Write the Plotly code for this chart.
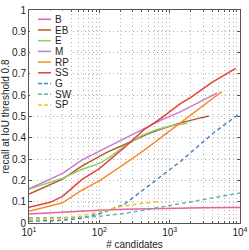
import plotly.graph_objects as go

# ---------------- data ----------------
B_n = [10, 30, 57, 100, 234, 1000, 3000, 10000]
B_v = [0.042, 0.052, 0.056, 0.060, 0.064, 0.070, 0.072, 0.073]

EB_n = [10, 20, 30, 57, 100, 134, 234, 500, 741, 1436, 2500, 3600]
EB_v = [0.136, 0.180, 0.206, 0.268, 0.310, 0.335, 0.370, 0.420, 0.440, 0.470, 0.490, 0.502]

E_n = [10, 20, 30, 57, 100, 134, 234, 400, 630, 1000, 1780]
E_v = [0.160, 0.190, 0.210, 0.252, 0.280, 0.305, 0.363, 0.410, 0.437, 0.455, 0.468]

M_n = [10, 20, 30, 57, 100, 134, 234, 385, 741, 1436, 2500, 4700]
M_v = [0.160, 0.205, 0.233, 0.296, 0.337, 0.358, 0.400, 0.437, 0.482, 0.523, 0.564, 0.610]

RP_n = [10, 20, 30, 57, 103, 234, 427, 741, 1500, 3000, 5500]
RP_v = [0.055, 0.080, 0.095, 0.155, 0.200, 0.280, 0.340, 0.400, 0.476, 0.550, 0.617]

SS_n = [10, 20, 30, 57, 100, 234, 428, 741, 1436, 2000, 4000, 8700]
SS_v = [0.074, 0.097, 0.125, 0.205, 0.255, 0.358, 0.437, 0.490, 0.562, 0.590, 0.660, 0.726]

G_n = [10, 20, 30, 57, 103, 227, 500, 1000, 1436, 4270, 10000]
G_v = [0.008, 0.010, 0.013, 0.022, 0.045, 0.088, 0.174, 0.253, 0.290, 0.425, 0.515]

SW_n = [10, 30, 57, 103, 227, 500, 1000, 3000, 10000]
SW_v = [0.023, 0.025, 0.027, 0.032, 0.045, 0.064, 0.082, 0.111, 0.141]

SP_n = [10, 20, 30, 57, 103, 200, 400, 680]
SP_v = [0.014, 0.018, 0.022, 0.033, 0.053, 0.077, 0.092, 0.100]

series_names = ["B", "EB", "E", "M", "RP", "SS", "G", "SW", "SP"]
series_n = [B_n, EB_n, E_n, M_n, RP_n, SS_n, G_n, SW_n, SP_n]
series_v = [B_v, EB_v, E_v, M_v, RP_v, SS_v, G_v, SW_v, SP_v]
series_colors = ["#e75ea4", "#b35a24", "#8fcf6e", "#c47ccc", "#f28e2b",
                 "#e3413a", "#4b86c0", "#5fb9a5", "#f2c31c"]
series_dash = ["solid"] * 6 + ["4px,3px"] * 3

x_tickvals = [10, 100, 1000, 10000]
x_ticktext = ["10<sup>1</sup>", "10<sup>2</sup>", "10<sup>3</sup>", "10<sup>4</sup>"]
y_tickvals = [0, 0.1, 0.2, 0.3, 0.4, 0.5, 0.6, 0.7, 0.8, 0.9, 1]
y_ticktext = ["0", "0.1", "0.2", "0.3", "0.4", "0.5", "0.6", "0.7", "0.8", "0.9", "1"]

FONT = "Liberation Sans, Arial, sans-serif"
TXT = "#222222"
FRAME = "#555555"
GRID = "#b4b4b4"
GRID_DASH = "1px,3px"

fig = go.Figure()
for name, n, v, c, d in zip(series_names, series_n, series_v, series_colors, series_dash):
    fig.add_trace(go.Scatter(x=n, y=v, mode="lines", name=name,
                             line=dict(color=c, width=1.5, dash=d),
                             showlegend=False, hoverinfo="skip"))

# ---------------- custom compact legend ----------------
W, H = 249, 250
ML, MR, MT, MB = 29, 9, 10, 27
PW, PH = W - ML - MR, H - MT - MB

def px_x(x):
    return (x - ML) / PW

def px_y(y):
    return (H - MB - y) / PH

shapes = [dict(type="rect", xref="paper", yref="paper",
               x0=px_x(30), x1=px_x(70), y0=px_y(110), y1=px_y(10.5),
               fillcolor="white", line=dict(width=0), layer="above")]
annotations = []
row0, step = 19.3, 10.7
for i, (name, c, d) in enumerate(zip(series_names, series_colors, series_dash)):
    yy = row0 + i * step
    shapes.append(dict(type="line", xref="paper", yref="paper",
                       x0=px_x(38), x1=px_x(51), y0=px_y(yy), y1=px_y(yy),
                       line=dict(color=c, width=1.5, dash=("solid" if d == "solid" else "4px,2px")),
                       layer="above"))
    annotations.append(dict(text=name, xref="paper", yref="paper",
                            x=px_x(52.5), y=px_y(yy), xanchor="left", yanchor="middle",
                            showarrow=False, font=dict(family=FONT, size=10, color=TXT)))

fig.update_layout(
    width=W, height=H,
    margin=dict(l=ML, r=MR, t=MT, b=MB, autoexpand=False),
    paper_bgcolor="white", plot_bgcolor="white",
    font=dict(family=FONT, size=10, color=TXT),
    shapes=shapes, annotations=annotations,
    showlegend=False,
)
fig.update_xaxes(
    type="log", range=[1, 4], automargin=False,
    tickvals=x_tickvals, ticktext=x_ticktext,
    ticks="inside", ticklen=3, tickcolor=FRAME,
    showline=True, linecolor=FRAME, linewidth=1, mirror="ticks",
    showgrid=True, gridcolor=GRID, griddash=GRID_DASH, gridwidth=1,
    minor=dict(dtick="D1", ticks="inside", ticklen=2, tickcolor=FRAME,
               showgrid=True, gridcolor=GRID, griddash=GRID_DASH, gridwidth=1),
    zeroline=False,
    tickfont=dict(family=FONT, size=10, color=TXT),
    title=dict(text="# candidates", font=dict(family=FONT, size=10, color=TXT), standoff=3),
)
fig.update_yaxes(
    range=[0, 1], automargin=False,
    tickvals=y_tickvals, ticktext=y_ticktext,
    ticks="inside", ticklen=3, tickcolor=FRAME,
    showline=True, linecolor=FRAME, linewidth=1, mirror="ticks",
    showgrid=True, gridcolor=GRID, griddash=GRID_DASH, gridwidth=1,
    zeroline=False,
    tickfont=dict(family=FONT, size=10, color=TXT),
    title=dict(text="recall at IoU threshold 0.8", font=dict(family=FONT, size=10, color=TXT), standoff=3),
)

fig.write_html("out.html",
               config={"displayModeBar": False, "staticPlot": True},
               post_script="document.body.style.margin='0';document.body.style.padding='0';")
